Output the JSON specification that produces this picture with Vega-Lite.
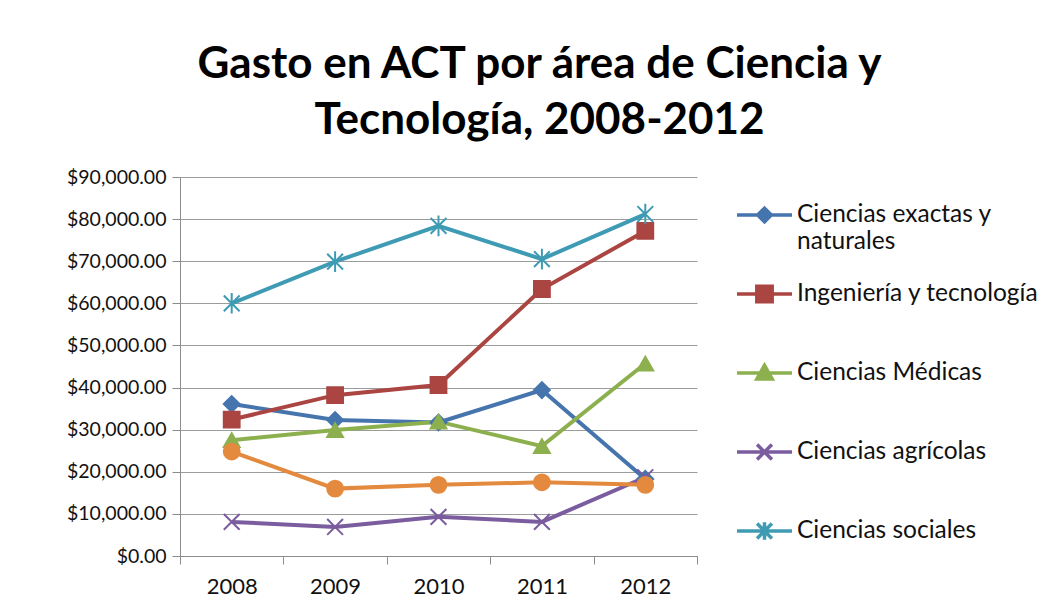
{
  "$schema": "https://vega.github.io/schema/vega-lite/v6.json",
  "autosize": {"type": "none"},
  "width": 517,
  "height": 379,
  "padding": {"left": 180, "top": 177, "right": 359, "bottom": 60},
  "background": "white",
  "title": {
    "text": ["Gasto en ACT por área de Ciencia y", "Tecnología, 2008-2012"],
    "font": "Lato",
    "fontSize": 44,
    "fontWeight": "bold",
    "color": "#000000",
    "lineHeight": 56,
    "anchor": "middle",
    "frame": "group",
    "dx": 101,
    "offset": 24
  },
  "config": {
    "view": {"stroke": null},
    "font": "Lato",
    "axis": {
      "labelFont": "Lato",
      "labelColor": "#111111",
      "domainColor": "#8c8c8c",
      "tickColor": "#8c8c8c",
      "gridColor": "#9c9c9c",
      "tickSize": 8,
      "title": null
    },
    "legend": {"labelFont": "Lato", "labelFontSize": 24.5, "labelColor": "#111111", "labelLimit": 400}
  },
  "data": {
    "values": [
      {"year": "2008", "serie": "Ciencias exactas y naturales", "value": 36100},
      {"year": "2009", "serie": "Ciencias exactas y naturales", "value": 32300},
      {"year": "2010", "serie": "Ciencias exactas y naturales", "value": 31700},
      {"year": "2011", "serie": "Ciencias exactas y naturales", "value": 39400},
      {"year": "2012", "serie": "Ciencias exactas y naturales", "value": 18300},
      {"year": "2008", "serie": "Ingeniería y tecnología", "value": 32400},
      {"year": "2009", "serie": "Ingeniería y tecnología", "value": 38200},
      {"year": "2010", "serie": "Ingeniería y tecnología", "value": 40600},
      {"year": "2011", "serie": "Ingeniería y tecnología", "value": 63400},
      {"year": "2012", "serie": "Ingeniería y tecnología", "value": 77200},
      {"year": "2008", "serie": "Ciencias  Médicas", "value": 27500},
      {"year": "2009", "serie": "Ciencias  Médicas", "value": 29900},
      {"year": "2010", "serie": "Ciencias  Médicas", "value": 31900},
      {"year": "2011", "serie": "Ciencias  Médicas", "value": 26100},
      {"year": "2012", "serie": "Ciencias  Médicas", "value": 45700},
      {"year": "2008", "serie": "Ciencias agrícolas", "value": 8100},
      {"year": "2009", "serie": "Ciencias agrícolas", "value": 6900},
      {"year": "2010", "serie": "Ciencias agrícolas", "value": 9300},
      {"year": "2011", "serie": "Ciencias agrícolas", "value": 8100},
      {"year": "2012", "serie": "Ciencias agrícolas", "value": 18700},
      {"year": "2008", "serie": "Ciencias sociales", "value": 60000},
      {"year": "2009", "serie": "Ciencias sociales", "value": 69900},
      {"year": "2010", "serie": "Ciencias sociales", "value": 78400},
      {"year": "2011", "serie": "Ciencias sociales", "value": 70500},
      {"year": "2012", "serie": "Ciencias sociales", "value": 81200},
      {"year": "2008", "serie": "Humanidades", "value": 24800},
      {"year": "2009", "serie": "Humanidades", "value": 16000},
      {"year": "2010", "serie": "Humanidades", "value": 16900},
      {"year": "2011", "serie": "Humanidades", "value": 17500},
      {"year": "2012", "serie": "Humanidades", "value": 16900}
    ]
  },
  "encoding": {
    "x": {
      "field": "year",
      "type": "ordinal",
      "scale": {"type": "band", "paddingInner": 0, "paddingOuter": 0},
      "axis": {"tickBand": "extent", "labelAngle": 0, "labelPadding": 12, "labelFontSize": 22, "grid": false}
    },
    "y": {
      "field": "value",
      "type": "quantitative",
      "scale": {"domain": [0, 90000], "nice": false},
      "axis": {"values": [0, 10000, 20000, 30000, 40000, 50000, 60000, 70000, 80000, 90000], "format": "$,.2f", "labelPadding": 6, "labelFontSize": 19.5, "grid": true}
    },
    "color": {
      "field": "serie",
      "type": "nominal",
      "scale": {
        "domain": ["Ciencias exactas y naturales", "Ingeniería y tecnología", "Ciencias  Médicas", "Ciencias agrícolas", "Ciencias sociales", "Humanidades"],
        "range": ["#4675AE", "#AA4542", "#8DB04F", "#7B5C9E", "#3F9BB4", "#E38A3E"]
      },
      "legend": {
        "title": null,
        "orient": "none",
        "legendX": 555,
        "legendY": 8.5,
        "values": ["Ciencias exactas y naturales", "Ingeniería y tecnología", "Ciencias  Médicas", "Ciencias agrícolas", "Ciencias sociales"],
        "symbolSize": 3025,
        "rowPadding": 0,
        "labelOffset": 3,
        "labelExpr": "datum.label === 'Ciencias exactas y naturales' ? ['Ciencias exactas y', 'naturales'] : datum.label",
        "encode": {
          "symbols": {
            "update": {
              "shape": {"signal": "(datum.value === 'Ciencias exactas y naturales' ? 'M-1,0H1M-0.25,0L0,-0.25L0.25,0L0,0.25Z' : datum.value === 'Ingeniería y tecnología' ? 'M-1,0H1M-0.28,-0.28H0.28V0.28H-0.28Z' : datum.value === 'Ciencias  Médicas' ? 'M-1,0H1M-0.28,0.22L0,-0.28L0.28,0.22Z' : datum.value === 'Ciencias agrícolas' ? 'M-1,0H1M-0.27,-0.27L0.27,0.27M-0.27,0.27L0.27,-0.27' : 'M-1,0H1M-0.27,-0.27L0.27,0.27M-0.27,0.27L0.27,-0.27M0,-0.32V0.32') + 'M0,-1.16L0,-1.16M0,1.16L0,1.16'"},
              "fill": {"signal": "scale('color', datum.value)"},
              "stroke": {"signal": "scale('color', datum.value)"},
              "strokeWidth": {"value": 3.5},
              "opacity": {"value": 1}
            }
          }
        }
      }
    }
  },
  "layer": [
    {
      "mark": {"type": "line", "strokeWidth": 4}
    },
    {
      "encoding": {
        "stroke": {
          "field": "serie",
          "type": "nominal",
          "scale": {
            "domain": ["Ciencias exactas y naturales", "Ingeniería y tecnología", "Ciencias  Médicas", "Ciencias agrícolas", "Ciencias sociales", "Humanidades"],
            "range": ["#4675AE", "#AA4542", "#8DB04F", "#7B5C9E", "#3F9BB4", "#E38A3E"]
          },
          "legend": null
        }
      },
      "layer": [
        {
          "transform": [{"filter": "datum.serie === 'Ciencias exactas y naturales'"}],
          "mark": {"type": "point", "shape": "diamond", "filled": true, "strokeWidth": 2, "opacity": 1, "size": 250}
        },
        {
          "transform": [{"filter": "datum.serie === 'Ingeniería y tecnología'"}],
          "mark": {"type": "point", "shape": "square", "filled": true, "strokeWidth": 2, "opacity": 1, "size": 250}
        },
        {
          "transform": [{"filter": "datum.serie === 'Ciencias  Médicas'"}],
          "mark": {"type": "point", "shape": "triangle-up", "filled": true, "strokeWidth": 2, "opacity": 1, "size": 250}
        },
        {
          "transform": [{"filter": "datum.serie === 'Ciencias agrícolas'"}],
          "mark": {"type": "point", "shape": "M-1,-1L1,1M-1,1L1,-1", "filled": true, "strokeWidth": 2, "opacity": 1, "size": 250}
        },
        {
          "transform": [{"filter": "datum.serie === 'Ciencias sociales'"}],
          "mark": {"type": "point", "shape": "M-1,-1L1,1M-1,1L1,-1M0,-1.3V1.3", "filled": true, "strokeWidth": 2, "opacity": 1, "size": 250}
        },
        {
          "transform": [{"filter": "datum.serie === 'Humanidades'"}],
          "mark": {"type": "point", "shape": "circle", "filled": true, "strokeWidth": 2, "opacity": 1, "size": 250}
        }
      ]
    }
  ]
}
